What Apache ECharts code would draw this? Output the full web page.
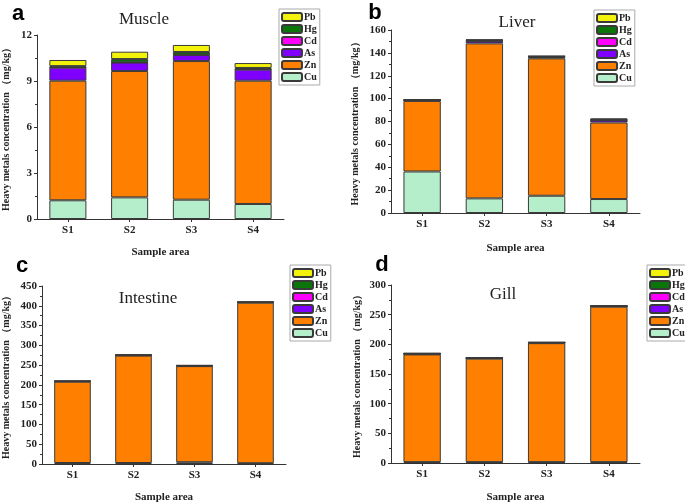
<!DOCTYPE html>
<html>
<head>
<meta charset="utf-8">
<script src="https://cdn.jsdelivr.net/npm/echarts@6/dist/echarts.min.js"></script>
<style>html,body{margin:0;padding:0;background:#fff}#c{width:685px;height:504px}</style>
</head>
<body>
<div id="c"></div>
<script>
var categories = ['S1', 'S2', 'S3', 'S4'];
var metals = ['Cu', 'Zn', 'As', 'Cd', 'Hg', 'Pb'];
var legendOrder = ['Pb', 'Hg', 'Cd', 'As', 'Zn', 'Cu'];
var metalColors = ['#b5eecb', '#ff8000', '#7f00ff', '#ff00ff', '#0a760a', '#f2f20a'];
var panelTitles = ['Muscle', 'Liver', 'Intestine', 'Gill'];
var panelLetters = ['a', 'b', 'c', 'd'];
var yMax = [12, 160, 450, 300];
var yInterval = [3, 20, 50, 50];

// Muscle (mg/kg)
var muscleCu = [1.22, 1.41, 1.26, 0.98];
var muscleZn = [7.80, 8.24, 9.04, 8.04];
var muscleAs = [0.85, 0.55, 0.40, 0.72];
var muscleCd = [0.02, 0.02, 0.02, 0.02];
var muscleHg = [0.08, 0.21, 0.17, 0.09];
var musclePb = [0.40, 0.48, 0.46, 0.32];
// Liver
var liverCu = [36.3, 12.8, 15.1, 12.2];
var liverZn = [61.7, 135.5, 120.1, 66.9];
var liverAs = [0.6, 1.9, 1.0, 2.0];
var liverCd = [0.1, 0.2, 0.2, 0.2];
var liverHg = [0.3, 0.8, 0.6, 0.5];
var liverPb = [0.4, 0.5, 0.3, 0.8];
// Intestine
var intestineCu = [2.5, 2.5, 4.5, 2.0];
var intestineZn = [205.5, 271.5, 243.0, 405.8];
var intestineAs = [1.0, 1.0, 1.0, 1.0];
var intestineCd = [0.1, 0.1, 0.1, 0.1];
var intestineHg = [0.3, 0.3, 0.4, 0.4];
var intestinePb = [0.6, 0.6, 0.6, 0.7];
// Gill
var gillCu = [1.5, 1.5, 1.5, 1.5];
var gillZn = [181.5, 174.4, 200.5, 261.9];
var gillAs = [1.0, 0.8, 0.8, 0.8];
var gillCd = [0.1, 0.1, 0.1, 0.1];
var gillHg = [0.4, 0.3, 0.3, 0.3];
var gillPb = [0.8, 0.6, 0.6, 0.6];

var panelData = [
  [muscleCu, muscleZn, muscleAs, muscleCd, muscleHg, musclePb],
  [liverCu, liverZn, liverAs, liverCd, liverHg, liverPb],
  [intestineCu, intestineZn, intestineAs, intestineCd, intestineHg, intestinePb],
  [gillCu, gillZn, gillAs, gillCd, gillHg, gillPb]
];

var SERIF = '"Liberation Serif", "DejaVu Serif", serif';
var SANS = '"Liberation Sans", Arial, sans-serif';
var AX = '#333';

var grids = [
  {left: 36, top: 35, width: 248, height: 184},
  {left: 391, top: 30, width: 249, height: 183},
  {left: 38, top: 286, width: 248, height: 183},
  {left: 391, top: 285, width: 249, height: 184}
];
var yNameGap = [26, 31, 31, 29];
var xNameGap = [28, 30, 28, 29];
var legendPos = [
  {left: 279, top: 9},
  {left: 594, top: 10},
  {left: 290, top: 265},
  {left: 647, top: 265}
];
var titlePos = [[144, 20], [517, 23], [148, 299], [503, 295]];
var letterPos = [[18, 14], [375, 13], [22, 266], [382, 265]];

var xAxes = [], yAxes = [], series = [], legends = [], graphics = [];
for (var p = 0; p < 4; p++) {
  xAxes.push({
    type: 'category', gridIndex: p, data: categories,
    name: 'Sample area', nameLocation: 'middle', nameGap: xNameGap[p],
    nameTextStyle: {fontFamily: SERIF, fontWeight: 'bold', fontSize: 11, color: '#222'},
    axisLine: {lineStyle: {color: AX, width: 1}},
    axisTick: {show: true, alignWithLabel: true, length: 3, lineStyle: {color: AX}},
    axisLabel: {fontFamily: SERIF, fontWeight: 'bold', fontSize: 11, color: '#222', margin: 6},
    splitLine: {show: false}
  });
  yAxes.push({
    type: 'value', gridIndex: p, min: 0, max: yMax[p], interval: yInterval[p],
    name: 'Heavy metals concentration （mg/kg）', nameLocation: 'middle', nameGap: yNameGap[p],
    nameRotate: 90,
    nameTextStyle: {fontFamily: SERIF, fontWeight: 'bold', fontSize: 10, color: '#222'},
    axisLine: {show: true, lineStyle: {color: AX, width: 1}},
    axisTick: {show: true, inside: false, length: 3, lineStyle: {color: AX}},
    minorTick: {show: true, splitNumber: 2, length: 2, lineStyle: {color: AX}},
    axisLabel: {fontFamily: SERIF, fontWeight: 'bold', fontSize: 11, color: '#222', margin: 5},
    splitLine: {show: false}
  });
  for (var m = 0; m < metals.length; m++) {
    series.push({
      type: 'bar', name: metals[m], xAxisIndex: p, yAxisIndex: p,
      stack: 'panel' + p, data: panelData[p][m],
      barCategoryGap: '40%',
      itemStyle: {color: metalColors[m], borderColor: '#3a3a3a', borderWidth: 1},
      emphasis: {disabled: true}
    });
  }
  legends.push({
    left: legendPos[p].left, top: legendPos[p].top, orient: 'vertical',
    data: legendOrder, itemWidth: 20, itemHeight: 8, itemGap: 2,
    padding: [3, 3, 3, 2], borderColor: '#aaa', borderWidth: 1,
    textStyle: {fontFamily: SERIF, fontWeight: 'bold', fontSize: 10, lineHeight: 9, color: '#222', padding: [0, 0, 0, -3]},
    selectedMode: false
  });
  graphics.push({
    type: 'text', x: titlePos[p][0], y: titlePos[p][1],
    style: {text: panelTitles[p], fontFamily: SERIF, fontSize: 17, fill: '#222', textAlign: 'center', textVerticalAlign: 'middle'}
  });
  graphics.push({
    type: 'text', x: letterPos[p][0], y: letterPos[p][1],
    style: {text: panelLetters[p], fontFamily: SANS, fontWeight: 'bold', fontSize: 22, fill: '#000', textAlign: 'center', textVerticalAlign: 'middle'}
  });
}

var chart = echarts.init(document.getElementById('c'), null, {renderer: 'canvas'});
chart.setOption({
  animation: false,
  backgroundColor: '#fff',
  grid: grids,
  xAxis: xAxes,
  yAxis: yAxes,
  legend: legends,
  series: series,
  graphic: graphics
});
</script>
</body>
</html>
